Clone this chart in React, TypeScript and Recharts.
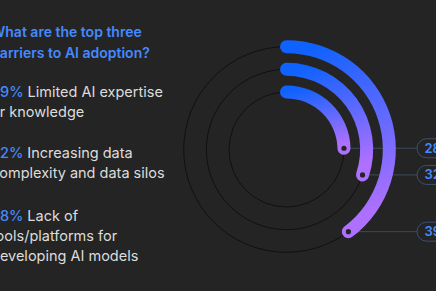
import React from 'react';
import { PolarAngleAxis, RadialBar, RadialBarChart, Sector } from 'recharts';

const barriers = [
  'Lack of tools/platforms for developing AI models',
  'Increasing data complexity and data silos',
  'Limited AI expertise or knowledge',
];
const shares = [28, 32, 39];

const data = barriers.map((name, i) => ({ name, value: shares[i] }));

const BG = '#242424';
const BLUE = '#4589ff';
const RADIAN = Math.PI / 180;

function ArcShape(props: any) {
  const { cx, cy, innerRadius, outerRadius, startAngle, endAngle, value } = props;
  const r = (innerRadius + outerRadius) / 2;
  const ex = cx + r * Math.cos(-endAngle * RADIAN);
  const ey = cy + r * Math.sin(-endAngle * RADIAN);
  return (
    <g>
      <circle cx={cx} cy={cy} r={r} fill="none" stroke="#101010" strokeWidth={1} />
      <line x1={ex} y1={ey} x2={417} y2={ey} stroke="#3b4a58" strokeWidth={1} />
      <Sector
        cx={cx}
        cy={cy}
        innerRadius={innerRadius}
        outerRadius={outerRadius}
        startAngle={startAngle}
        endAngle={endAngle}
        cornerRadius={(outerRadius - innerRadius) / 2}
        cornerIsExternal
        fill="url(#arcGrad)"
      />
      <circle cx={ex} cy={ey} r={2.6} fill={BG} />
      <rect x={417} y={ey - 9.5} width={40} height={19} rx={9.5} fill={BG} stroke="#3d5070" strokeWidth={1} />
      <text x={424.5} y={ey + 4.5} fill={BLUE} fontSize={13} fontWeight={600} fontFamily="Inter, sans-serif">
        {value}
      </text>
    </g>
  );
}

const textBlocks = [
  { pct: shares[2], lines: ['Limited AI expertise', 'or knowledge'], top: 82 },
  { pct: shares[1], lines: ['Increasing data', 'complexity and data silos'], top: 143 },
  { pct: shares[0], lines: ['Lack of', 'tools/platforms for', 'developing AI models'], top: 206 },
];

export default function App() {
  return (
    <div
      style={{
        position: 'absolute',
        left: 0,
        top: 0,
        width: 436,
        height: 291,
        background: BG,
        overflow: 'hidden',
        fontFamily: 'Inter, sans-serif',
      }}
    >
      <div style={{ position: 'absolute', left: 0, top: 0 }}>
        <RadialBarChart
          width={436}
          height={291}
          data={data}
          cx={286.5}
          cy={149.5}
          innerRadius={46}
          outerRadius={114}
          startAngle={90}
          endAngle={-270}
          barSize={13}
          margin={{ top: 0, right: 0, bottom: 0, left: 0 }}
        >
          <defs>
            <linearGradient id="arcGrad" x1="0" y1="0" x2="0.25" y2="1">
              <stop offset="0.1" stopColor="#0f62fe" />
              <stop offset="1" stopColor="#ad70ff" />
            </linearGradient>
          </defs>
          <PolarAngleAxis type="number" domain={[10, 83]} tick={false} axisLine={false} />
          <RadialBar dataKey="value" isAnimationActive={false} shape={ArcShape} />
        </RadialBarChart>
      </div>
      <div
        style={{
          position: 'absolute',
          left: -9,
          top: 21,
          color: BLUE,
          fontWeight: 600,
          fontSize: 14,
          lineHeight: '21px',
          whiteSpace: 'nowrap',
        }}
      >
        What are the top three
        <br />
        barriers to AI adoption?
      </div>
      {textBlocks.map((b) => (
        <div
          key={b.pct}
          style={{
            position: 'absolute',
            left: -9,
            top: b.top,
            color: '#dcdcdc',
            fontSize: 14.5,
            lineHeight: '20px',
            whiteSpace: 'nowrap',
          }}
        >
          {b.lines.map((l, i) => (
            <div key={i}>
              {i === 0 && <span style={{ color: BLUE, fontWeight: 500 }}>{b.pct}% </span>}
              {l}
            </div>
          ))}
        </div>
      ))}
    </div>
  );
}
